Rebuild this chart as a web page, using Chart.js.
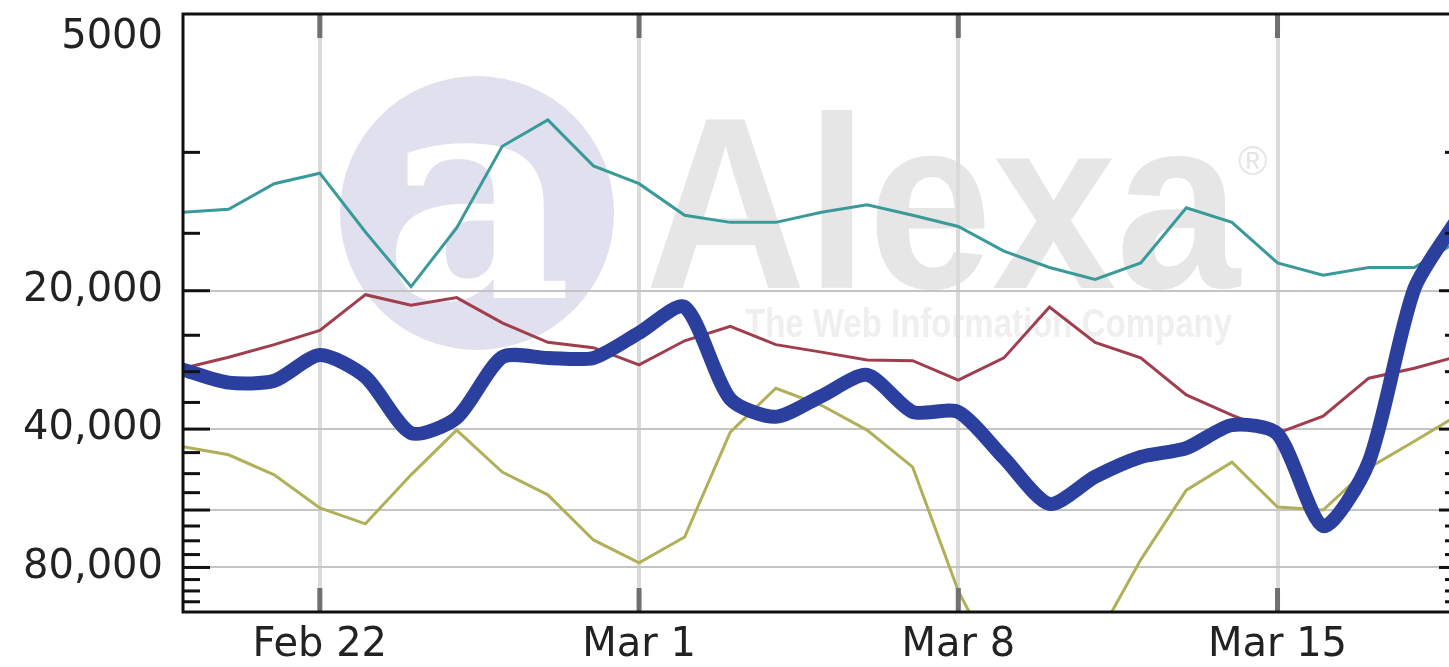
<!DOCTYPE html>
<html>
<head>
<meta charset="utf-8">
<script src="https://cdn.jsdelivr.net/npm/chart.js@4.4.1/dist/chart.umd.min.js"></script>
<style>
html,body{margin:0;padding:0;background:#fff;overflow:hidden}
#wrap{width:1449px;height:667px;position:relative}
</style>
</head>
<body>
<div id="wrap"><canvas id="c" width="1449" height="667" style="width:1449px;height:667px"></canvas></div>
<script>
// ---- data (daily traffic rank, lower = better) ----
const categories = ['Feb 19','Feb 20','Feb 21','Feb 22','Feb 23','Feb 24','Feb 25','Feb 26','Feb 27','Feb 28',
  'Mar 1','Mar 2','Mar 3','Mar 4','Mar 5','Mar 6','Mar 7','Mar 8','Mar 9','Mar 10',
  'Mar 11','Mar 12','Mar 13','Mar 14','Mar 15','Mar 16','Mar 17','Mar 18','Mar 19'];

const blueRank = [29700,31700,31400,27600,30800,40800,37800,27900,28000,28000,
  24700,21700,34400,37600,33900,30500,36700,36700,46200,58200,
  50800,46000,44000,39200,41000,65000,47200,19800,13700];

const tealRank = [13500,13300,11700,11100,14900,19600,14600,9700,8500,10700,
  11700,13700,14200,14200,13500,13000,13700,14500,16400,17800,
  18900,17400,13200,14200,17400,18500,17800,17800,15500];

const redRank = [29500,27900,26200,24400,20400,21500,20700,23500,25900,26600,
  29000,25700,23900,26200,27200,28300,28400,31300,28000,21700,
  25900,28000,33700,37300,40800,37500,31000,29500,27700];

const oliveRank = [43700,45500,50300,59400,64300,50300,40200,49600,55600,69700,
  78200,68700,40600,32600,35500,40200,48400,90000,140000,160000,
  116000,77000,54300,47200,59100,60000,48600,42500,37100];

const xTickIndex = [3, 10, 17, 24];            // Feb 22, Mar 1, Mar 8, Mar 15
const yTickValues = [5000,10000,15000,20000,25000,30000,35000,40000,45000,50000,55000,
  60000,65000,70000,75000,80000,85000,90000,95000,100000];
const yMajor = [20000, 40000, 60000, 80000];
const yLabels = {5000: ['', '5000'], 20000: '20,000', 40000: '40,000', 80000: '80,000'};

const pts = arr => arr.map((v, i) => ({x: i, y: v}));

const decor = {
  id: 'decor',
  beforeDraw(chart) {
    const ctx = chart.ctx;
    ctx.save();
    ctx.fillStyle = '#ffffff';
    ctx.fillRect(0, 0, chart.width, chart.height);
    // watermark circle
    ctx.fillStyle = '#e0e0ee';
    ctx.beginPath();
    ctx.arc(477, 213, 137, 0, Math.PI * 2);
    ctx.fill();
    // white "a"
    ctx.fillStyle = '#ffffff';
    ctx.font = 'bold 290px "DejaVu Serif"';
    ctx.textAlign = 'center';
    ctx.textBaseline = 'alphabetic';
    ctx.fillText('a', 478, 298);
    // Alexa
    ctx.fillStyle = '#e6e6e6';
    ctx.font = 'bold 245px "Liberation Sans"';
    ctx.textAlign = 'left';
    let w = ctx.measureText('Alexa').width;
    ctx.save();
    ctx.translate(645, 288);
    ctx.scale(595 / w, 1);
    ctx.fillText('Alexa', 0, 0);
    ctx.restore();
    ctx.font = '40px "Liberation Sans"';
    ctx.fillText('®', 1238, 175);
    // tagline
    ctx.fillStyle = '#efefef';
    ctx.font = 'bold 40px "Liberation Sans"';
    w = ctx.measureText('The Web Information Company').width;
    ctx.save();
    ctx.translate(745, 337);
    ctx.scale(487 / w, 1);
    ctx.fillText('The Web Information Company', 0, 0);
    ctx.restore();
    ctx.restore();
  },
  afterDraw(chart) {
    const ctx = chart.ctx;
    const a = chart.chartArea;
    const ys = chart.scales.y, xs = chart.scales.x;
    ctx.save();
    // x tick marks (inside, top and bottom)
    ctx.fillStyle = '#707070';
    xTickIndex.forEach(i => {
      const px = xs.getPixelForValue(i);
      ctx.fillRect(px - 2.5, a.top, 5, 24);
      ctx.fillRect(px - 2.5, a.bottom - 24, 5, 24);
    });
    // y tick marks (inside, left and right)
    ctx.fillStyle = '#111111';
    yTickValues.forEach(v => {
      if (v <= ys.min || v >= ys.max) return;
      const py = ys.getPixelForValue(v);
      const major = yMajor.includes(v);
      ctx.fillRect(a.left, py - 1.5, major ? 27 : 17, 3);
      ctx.fillRect(a.right - (major ? 10 : 4), py - 1.5, major ? 10 : 4, 3);
    });
    // frame
    ctx.strokeStyle = '#111111';
    ctx.lineWidth = 3;
    ctx.beginPath();
    ctx.moveTo(chart.width + 5, a.top);
    ctx.lineTo(a.left, a.top);
    ctx.lineTo(a.left, a.bottom);
    ctx.lineTo(chart.width + 5, a.bottom);
    ctx.stroke();
    ctx.restore();
  }
};

const labelFont = {family: '"DejaVu Sans", Verdana, sans-serif', size: 40};

new Chart(document.getElementById('c'), {
  type: 'line',
  data: {
    datasets: [
      {data: pts(blueRank), borderColor: '#2a3f9e', borderWidth: 14, tension: 0.25,
        borderJoinStyle: 'round', borderCapStyle: 'round', pointRadius: 0},
      {data: pts(tealRank), borderColor: '#3a9a9a', borderWidth: 3, tension: 0, pointRadius: 0},
      {data: pts(redRank), borderColor: '#a03e4e', borderWidth: 3, tension: 0, pointRadius: 0},
      {data: pts(oliveRank), borderColor: '#b0b058', borderWidth: 3, tension: 0, pointRadius: 0}
    ]
  },
  options: {
    responsive: false,
    animation: false,
    devicePixelRatio: 1,
    layout: {padding: {top: 14, left: 0, right: 0, bottom: 0}},
    plugins: {legend: {display: false}, tooltip: {enabled: false}},
    scales: {
      x: {
        type: 'linear', min: 0, max: 27.76,
        afterBuildTicks: s => { s.ticks = xTickIndex.map(v => ({value: v})); },
        afterFit: s => { s.height = 55; s.paddingLeft = 0; s.paddingRight = 0; },
        border: {display: false},
        grid: {drawTicks: false, color: '#dadada', lineWidth: 4},
        ticks: {autoSkip: false, maxRotation: 0, padding: 10, color: '#222', font: labelFont,
          callback: v => categories[v]}
      },
      y: {
        type: 'logarithmic', reverse: true, min: 5000, max: 100000,
        afterBuildTicks: s => { s.ticks = yTickValues.map(v => ({value: v})); },
        afterFit: s => { s.width = 183; s.paddingTop = 0; s.paddingBottom = 0; },
        border: {display: false},
        grid: {drawTicks: false, lineWidth: 2,
          color: c => (c.tick && yMajor.includes(c.tick.value)) ? '#c4c4c4' : 'rgba(0,0,0,0)'},
        ticks: {autoSkip: false, padding: 20, color: '#222', font: labelFont,
          callback: v => (yLabels[v] !== undefined ? yLabels[v] : '')}
      }
    }
  },
  plugins: [decor]
});
</script>
</body>
</html>
